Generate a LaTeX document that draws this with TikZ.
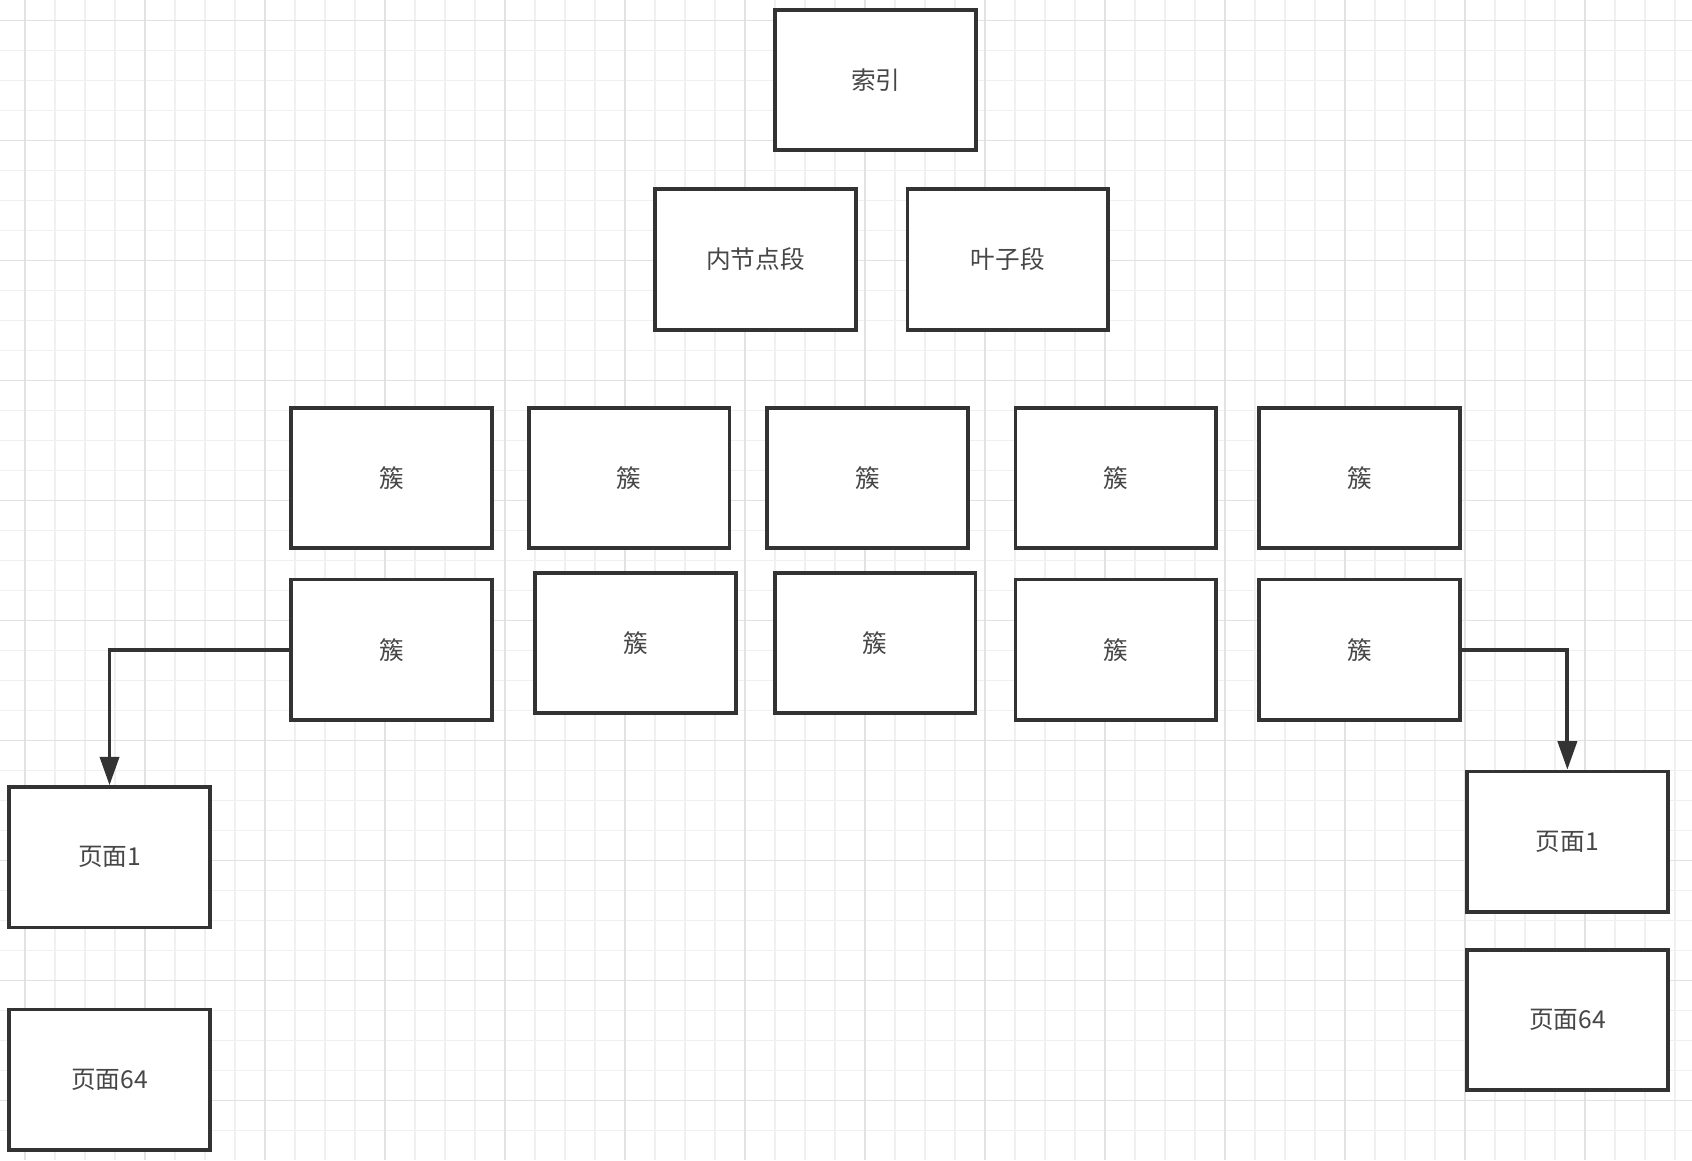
\documentclass[tikz,border=0pt]{standalone}
\usepackage{fontspec}
\newfontfamily\cjk{Noto Sans CJK SC}
\usetikzlibrary{arrows.meta}
\definecolor{gridminor}{RGB}{240,240,240}
\definecolor{gridmajor}{RGB}{226,226,226}
\definecolor{ink}{RGB}{51,51,51}
\tikzset{
  box/.style={draw=ink, line width=2pt, fill=white, minimum width=3.72cm,
    minimum height=2.6cm, inner sep=0pt, text=ink!90,
    font=\cjk\fontsize{13}{15}\selectfont},
  link/.style={draw=ink, line width=2pt, -{Triangle[length=15pt,width=10pt]}},
}
\begin{document}
\begin{tikzpicture}[x=0.02cm,y=-0.02cm]
    \useasboundingbox (0,0) rectangle (1568,1075);
    \fill[white] (0,0) rectangle (1568,1075);
    % background grid
    \foreach \x in {23.2,51,...,1568} \draw[gridminor, line width=0.6pt] (\x,0) -- (\x,1075);
    \foreach \y in {19.2,47,...,1075} \draw[gridminor, line width=0.6pt] (0,\y) -- (1568,\y);
    \foreach \x in {23.2,134.4,...,1568} \draw[gridmajor, line width=0.6pt] (\x,0) -- (\x,1075);
    \foreach \y in {19.2,130.4,...,1075} \draw[gridmajor, line width=0.6pt] (0,\y) -- (1568,\y);

    \node[box] (idx) at (811.5,74) {索引};
    \node[box] (inner) at (700,240.5) {内节点段};
    \node[box] (leaf) at (934,240.5) {叶子段};

    \node[box] (c1) at (363,443) {簇};
    \node[box] (c2) at (583,443) {簇};
    \node[box] (c3) at (804,443) {簇};
    \node[box] (c4) at (1034,443) {簇};
    \node[box] (c5) at (1260,443) {簇};

    \node[box] (c6) at (363,602) {簇};
    \node[box] (c7) at (589,596) {簇};
    \node[box] (c8) at (811,596) {簇};
    \node[box] (c9) at (1034,602) {簇};
    \node[box] (c10) at (1260,602) {簇};

    \node[box] (pgL1) at (101.5,794.5) {页面1};
    \node[box] (pgL64) at (101.5,1000.5) {页面64};
    \node[box] (pgR1) at (1452.5,780) {页面1};
    \node[box] (pgR64) at (1452.5,945) {页面64};

    \draw[link] (c6.west) -| (pgL1.north);
    \draw[link] (c10.east) -| (pgR1.north);
  \end{tikzpicture}
\end{document}
